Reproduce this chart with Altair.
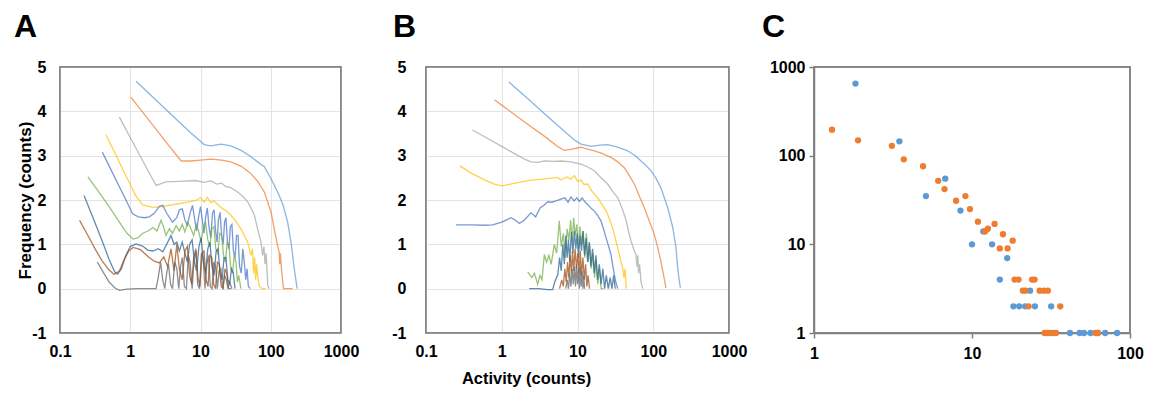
import altair as alt
import pandas as pd

FONT = "Liberation Sans"
SERIES = ["s1", "s2", "s3", "s4", "s5", "s6", "s7", "s8", "s9"]
COLORS = ["#5B9BD5", "#ED7D31", "#A5A5A5", "#FFC000", "#4472C4",
          "#70AD47", "#255E91", "#9E480E", "#636363"]
X_TICKS = [0.1, 1, 10, 100, 1000]
Y_TICKS = [-1, 0, 1, 2, 3, 4, 5]
C_X_TICKS = [1, 10, 100]
C_Y_TICKS = [1, 10, 100, 1000]

# ---------------- Panel A ----------------
A1_x = [1.21, 2.0, 4.0, 7.3, 11.3, 14.0, 19.5, 27.0, 37.8, 50.0, 65.0, 81.0, 101.0, 115.0, 132.0, 150.0, 174.0, 194.0, 205.0, 216.0, 228.0, 237.0]
A1_y = [4.68, 4.35, 3.90, 3.51, 3.25, 3.22, 3.26, 3.22, 3.12, 3.00, 2.86, 2.75, 2.48, 2.30, 2.10, 1.88, 1.50, 1.05, 0.75, 0.45, 0.20, 0.00]
A2_x = [1.02, 2.0, 3.5, 5.3, 7.3, 10.0, 14.1, 20.0, 27.0, 38.0, 52.0, 65.0, 81.0, 101.0, 112.0, 122.0, 128.0, 132.0, 134.0, 137.0, 142.0, 148.0, 152.0, 180.0, 205.0]
A2_y = [4.32, 3.73, 3.24, 2.88, 2.88, 2.90, 2.92, 2.90, 2.86, 2.76, 2.60, 2.42, 2.18, 1.73, 1.35, 1.05, 0.90, 0.83, 0.55, 0.80, 0.45, 0.15, 0.00, 0.00, 0.00]
A3_x = [0.70, 1.0, 1.5, 2.0, 2.33, 3.23, 5.0, 8.6, 11.0, 14.1, 17.0, 20.0, 23.0, 27.0, 33.8, 40.0, 47.0, 53.0, 58.4, 65.0, 72.6, 76.6, 80.0, 83.0, 86.0, 90.6, 95.0]
A3_y = [3.87, 3.41, 2.89, 2.52, 2.33, 2.41, 2.42, 2.44, 2.40, 2.43, 2.36, 2.38, 2.30, 2.28, 2.18, 2.08, 1.96, 1.80, 1.66, 1.35, 1.05, 0.75, 0.95, 0.55, 0.80, 0.08, 0.00]
A4_x = [0.45, 0.6, 0.8, 1.0, 1.2, 1.5, 2.0, 2.6, 3.5, 5.0, 6.5, 8.6, 10.0, 11.3, 12.5, 14.0, 15.5, 17.6, 20.0, 23.0, 27.0, 32.0, 37.6, 42.0, 47.0, 52.0, 55.0, 57.0, 59.0, 61.0, 63.0, 65.0, 68.6, 75.0, 85.0]
A4_y = [3.47, 3.07, 2.66, 2.35, 2.09, 1.89, 1.84, 1.84, 1.88, 1.92, 1.95, 1.99, 2.05, 1.95, 2.06, 1.94, 1.98, 1.90, 1.82, 1.76, 1.66, 1.52, 1.35, 1.20, 1.05, 0.75, 0.90, 0.35, 0.70, 0.20, 0.55, 0.30, 0.05, 0.00, 0.00]
A5_x = [0.40, 0.5, 0.7, 0.9, 1.08, 1.3, 1.6, 1.87, 2.2, 2.6, 2.9, 3.3, 4.0, 4.6, 5.0, 5.5, 6.0, 6.5, 7.1, 7.7, 8.2, 8.8, 9.4, 10.0, 10.6, 11.2, 11.8, 12.5, 13.2, 14.0, 14.8, 15.6, 16.4, 17.2, 18.0, 19.0, 20.0, 21.0, 22.0, 23.0, 24.2, 25.4, 26.6, 28.0, 29.4, 31.0, 32.6, 34.2, 36.0, 38.0, 40.0, 42.0, 44.0, 46.0, 48.0, 51.0]
A5_y = [3.08, 2.77, 2.30, 1.95, 1.69, 1.62, 1.60, 1.62, 1.70, 1.86, 1.88, 1.70, 1.50, 1.60, 1.78, 1.80, 1.55, 1.43, 1.70, 1.88, 1.60, 1.30, 1.62, 1.85, 1.55, 1.25, 1.60, 1.82, 1.40, 1.15, 1.70, 1.78, 1.30, 1.05, 1.55, 1.72, 1.20, 1.00, 1.50, 1.60, 1.05, 0.90, 1.40, 1.45, 0.85, 0.70, 1.20, 1.20, 0.50, 0.35, 0.90, 0.60, 0.20, 0.45, 0.05, 0.00]
A6_x = [0.25, 0.35, 0.5, 0.7, 0.9, 1.1, 1.3, 1.5, 1.8, 2.1, 2.4, 2.74, 3.0, 3.23, 3.6, 4.0, 4.5, 5.0, 5.5, 6.0, 6.6, 7.3, 8.0, 8.7, 9.4, 10.2, 11.0, 11.8, 12.7, 13.6, 14.5, 15.5, 16.5, 17.6, 18.8, 20.0, 21.3, 22.6, 24.0, 25.5, 27.0, 28.6, 30.2, 32.0, 33.5, 35.0, 37.6]
A6_y = [2.52, 2.20, 1.85, 1.50, 1.25, 1.12, 1.15, 1.25, 1.30, 1.38, 1.30, 1.54, 1.38, 1.20, 1.35, 1.25, 1.42, 1.30, 1.45, 1.28, 1.50, 1.35, 1.20, 1.45, 1.30, 1.05, 1.40, 1.50, 1.10, 0.95, 1.35, 1.40, 0.90, 0.80, 1.25, 1.20, 0.75, 0.60, 1.05, 0.95, 0.45, 0.35, 0.75, 0.60, 0.15, 0.30, 0.00]
A7_x = [0.22, 0.3, 0.4, 0.5, 0.6, 0.66, 0.75, 0.85, 1.0, 1.21, 1.5, 1.77, 2.1, 2.5, 2.9, 3.3, 3.8, 4.2, 4.6, 5.0, 5.5, 6.0, 6.5, 7.0, 7.6, 8.2, 8.8, 9.5, 10.2, 11.0, 11.8, 12.7, 13.6, 14.6, 15.6, 16.7, 17.8, 19.0, 20.3, 21.6, 23.0, 24.5, 26.0, 27.6, 29.3, 31.0]
A7_y = [2.10, 1.57, 1.07, 0.66, 0.38, 0.33, 0.45, 0.72, 0.95, 1.01, 0.96, 0.87, 0.85, 0.90, 0.83, 1.00, 1.20, 1.00, 1.05, 0.85, 1.05, 0.80, 0.60, 1.00, 1.10, 0.60, 0.40, 0.95, 1.15, 0.60, 0.35, 0.90, 1.05, 0.50, 0.30, 0.85, 0.90, 0.35, 0.20, 0.70, 0.70, 0.20, 0.10, 0.45, 0.35, 0.00]
A8_x = [0.19, 0.25, 0.32, 0.4, 0.5, 0.59, 0.7, 0.8, 0.95, 1.1, 1.4, 1.8, 2.2, 2.6, 3.0, 3.4, 3.8, 4.2, 4.6, 5.0, 5.5, 6.0, 6.5, 7.0, 7.5, 8.0, 8.6, 9.2, 9.8, 10.5, 11.2, 12.0, 12.8, 13.6, 14.5, 15.4, 16.4, 17.4, 18.5, 19.7, 21.0, 22.3, 23.7, 25.0, 27.0]
A8_y = [1.54, 1.20, 0.88, 0.62, 0.42, 0.32, 0.40, 0.62, 0.85, 0.93, 0.88, 0.72, 0.62, 0.58, 0.72, 0.50, 0.90, 0.40, 1.00, 0.45, 0.20, 0.85, 0.95, 0.30, 0.10, 0.70, 0.90, 0.25, 0.05, 0.80, 0.85, 0.20, 0.05, 0.75, 0.70, 0.10, 0.00, 0.60, 0.55, 0.05, 0.00, 0.45, 0.35, 0.00, 0.00]
A9_x = [0.34, 0.42, 0.5, 0.6, 0.7, 0.9, 1.2, 1.6, 2.0, 2.33, 2.5, 2.7, 2.9, 3.1, 3.3, 3.5, 3.75, 4.0, 4.3, 4.6, 4.9, 5.2, 5.5, 5.9, 6.3, 6.7, 7.1, 7.6, 8.1, 8.6, 9.1, 9.7, 10.3, 10.9, 11.6, 12.3, 13.0, 13.8, 14.6, 15.5, 16.4, 17.4, 18.4, 19.5, 20.7, 22.0, 23.3, 24.7, 26.0, 28.0]
A9_y = [0.60, 0.35, 0.15, 0.02, -0.04, -0.01, 0.00, 0.00, 0.00, 0.00, 0.25, 0.60, 0.20, 0.00, 0.35, 0.55, 0.10, 0.00, 0.60, 0.45, 0.00, 0.50, 0.70, 0.05, 0.00, 0.75, 0.60, 0.00, 0.65, 0.85, 0.10, 0.00, 0.80, 0.70, 0.00, 0.55, 0.75, 0.05, 0.00, 0.60, 0.50, 0.00, 0.40, 0.45, 0.00, 0.30, 0.20, 0.00, 0.15, 0.00]

# ---------------- Panel B ----------------
B1_x = [1.24, 2.0, 4.0, 6.05, 9.0, 11.1, 15.1, 20.0, 25.0, 33.0, 46.0, 58.0, 69.0, 80.0, 93.0, 108.0, 126.0, 140.0, 155.0, 168.0, 181.0, 190.0, 200.0, 210.0, 220.0, 228.0]
B1_y = [4.66, 4.35, 3.89, 3.62, 3.36, 3.26, 3.21, 3.24, 3.25, 3.20, 3.11, 3.00, 2.88, 2.78, 2.66, 2.50, 2.28, 2.05, 1.83, 1.60, 1.38, 1.15, 0.92, 0.47, 0.20, 0.02]
B2_x = [0.8, 1.0, 2.0, 4.0, 5.5, 6.7, 8.5, 11.1, 13.5, 16.7, 21.0, 27.7, 34.0, 41.5, 48.0, 56.2, 65.0, 76.0, 90.0, 103.0, 115.0, 126.0, 137.0, 147.0]
B2_y = [4.26, 4.14, 3.76, 3.39, 3.20, 3.12, 3.15, 3.19, 3.15, 3.11, 3.05, 2.96, 2.86, 2.73, 2.56, 2.36, 2.10, 1.83, 1.50, 1.23, 0.92, 0.62, 0.30, 0.02]
B3_x = [0.41, 0.6, 1.0, 1.5, 2.0, 2.43, 3.0, 3.65, 5.0, 6.05, 8.2, 11.1, 13.5, 16.7, 20.0, 25.0, 29.0, 34.0, 39.0, 44.1, 47.0, 50.8, 55.0, 59.0, 61.0, 62.5, 64.0, 66.0, 69.0, 72.6]
B3_y = [3.58, 3.42, 3.21, 3.04, 2.92, 2.86, 2.85, 2.88, 2.87, 2.88, 2.86, 2.81, 2.75, 2.66, 2.52, 2.36, 2.20, 2.05, 1.80, 1.53, 1.30, 1.08, 0.90, 0.77, 0.50, 0.75, 0.35, 0.55, 0.15, 0.00]
B4_x = [0.28, 0.4, 0.6, 0.8, 1.01, 1.5, 2.43, 3.5, 5.5, 6.05, 7.2, 8.2, 9.1, 10.0, 11.2, 12.2, 13.6, 15.5, 18.5, 21.5, 25.0, 28.0, 30.6, 33.0, 35.7, 37.5, 39.5, 41.0, 42.5, 44.0]
B4_y = [2.77, 2.60, 2.45, 2.36, 2.32, 2.38, 2.45, 2.47, 2.51, 2.45, 2.52, 2.47, 2.55, 2.42, 2.45, 2.35, 2.36, 2.20, 2.05, 1.88, 1.68, 1.45, 1.23, 1.00, 0.77, 0.60, 0.47, 0.25, 0.45, 0.00]
B5_x = [0.25, 0.4, 0.6, 0.76, 1.0, 1.32, 1.5, 1.71, 2.0, 2.43, 2.8, 3.2, 3.6, 4.05, 4.6, 5.2, 6.05, 6.8, 7.5, 8.2, 9.0, 9.8, 10.6, 11.5, 12.5, 13.6, 15.0, 16.7, 18.5, 20.4, 22.0, 23.8, 25.8, 27.7, 29.0, 30.6, 32.0, 34.0]
B5_y = [1.44, 1.44, 1.43, 1.44, 1.50, 1.60, 1.55, 1.47, 1.55, 1.71, 1.62, 1.82, 1.88, 1.96, 1.95, 1.98, 2.02, 2.05, 1.95, 2.07, 1.98, 2.05, 1.97, 2.05, 1.96, 1.90, 1.82, 1.75, 1.65, 1.53, 1.35, 1.15, 0.95, 0.77, 0.55, 0.32, 0.15, 0.00]
B6_x = [2.2, 2.5, 2.7, 2.98, 3.2, 3.4, 3.65, 3.9, 4.2, 4.5, 4.94, 5.3, 5.75, 6.1, 6.5, 6.9, 7.3, 7.7, 8.1, 8.5, 8.9, 9.3, 9.8, 10.3, 10.8, 11.3, 11.9, 12.5, 13.1, 13.8, 14.5, 15.2, 16.0, 16.8, 17.6, 18.5, 19.5, 20.5, 22.0]
B6_y = [0.38, 0.25, 0.35, 0.10, 0.30, 0.20, 0.77, 0.60, 0.75, 0.55, 1.00, 0.80, 1.53, 0.95, 1.25, 0.70, 1.35, 1.10, 1.55, 1.05, 1.60, 1.20, 1.45, 0.90, 1.40, 1.00, 1.30, 0.70, 1.25, 0.60, 1.00, 0.45, 0.80, 0.25, 0.65, 0.10, 0.45, 0.00, 0.00]
B7_x = [2.3, 3.13, 4.0, 4.7, 5.0, 5.5, 5.8, 6.1, 6.4, 6.7, 7.0, 7.3, 7.6, 7.9, 8.3, 8.7, 9.1, 9.5, 9.9, 10.3, 10.8, 11.3, 11.8, 12.4, 13.0, 13.6, 14.3, 15.0, 15.8, 16.6, 17.5, 18.4, 19.4, 20.5, 21.6, 22.8, 24.0, 25.5, 27.0, 28.5, 30.0, 31.5]
B7_y = [0.00, 0.00, -0.02, -0.02, 0.15, 0.32, 0.70, 0.40, 1.00, 0.55, 1.20, 0.70, 1.10, 0.60, 1.28, 0.80, 1.30, 0.90, 1.25, 0.70, 1.20, 0.85, 1.30, 0.75, 1.15, 0.60, 1.05, 0.50, 0.90, 0.35, 0.75, 0.20, 0.55, 0.10, 0.45, 0.00, 0.30, 0.00, 0.25, 0.00, 0.30, 0.00]
B8_x = [5.8, 6.2, 6.5, 6.8, 7.1, 7.4, 7.7, 8.0, 8.3, 8.6, 8.9, 9.3, 9.7, 10.1, 10.5, 10.9, 11.3, 11.8, 12.3, 12.8, 13.3, 13.8, 14.4]
B8_y = [0.00, 0.20, 0.05, 0.45, 0.15, 0.60, 0.25, 0.75, 0.35, 0.85, 0.40, 0.90, 0.45, 0.80, 0.35, 0.85, 0.30, 0.70, 0.20, 0.55, 0.05, 0.30, 0.00]
B9_x = [7.0, 7.3, 7.6, 7.9, 8.2, 8.5, 8.8, 9.1, 9.4, 9.7, 10.0, 10.3, 10.6, 10.9, 11.2, 11.5, 11.8, 12.1, 12.4]
B9_y = [0.00, 0.20, 0.00, 0.35, 0.05, 0.45, 0.10, 0.50, 0.05, 0.55, 0.10, 0.45, 0.00, 0.50, 0.05, 0.40, 0.00, 0.30, 0.00]

# ---------------- Panel C ----------------
C_blue_x = [1.83, 3.47, 5.11, 6.77, 8.45, 10.0, 11.8, 13.4, 15.0, 16.7, 18.3, 19.9, 21.7, 23.3, 25.0, 31.7, 41.7, 48.0, 51.1, 56.3, 62.6, 69.6, 82.8]
C_blue_y = [650, 145, 35, 55, 24, 10, 14, 10, 4, 7, 2, 2, 2, 3, 2, 2, 1, 1, 1, 1, 1, 1, 1]
C_orange_x = [1.30, 1.90, 3.11, 3.70, 4.90, 6.11, 6.70, 7.93, 9.08, 9.71, 10.9, 12.1, 12.6, 13.9, 15.0, 15.7, 16.8, 18.1, 18.6, 19.7, 24.0, 24.9, 21.0, 21.8, 26.8, 28.5, 30.2, 22.8, 36.2, 28.8, 30.0, 31.2, 32.5, 34.0, 60.5, 62.6]
C_orange_y = [196, 149, 129, 91, 76, 52, 42, 31, 35, 25, 18, 14, 15, 17, 9, 13, 9, 11, 4, 4, 4, 4, 3, 3, 3, 3, 3, 2, 2, 1, 1, 1, 1, 1, 1, 1]


def line_frame(pairs):
    rows = []
    for name, xs, ys in pairs:
        for i, (xv, yv) in enumerate(zip(xs, ys)):
            rows.append({"series": name, "x": xv, "y": yv, "i": i})
    return pd.DataFrame(rows)


dfA = line_frame([
    ("s1", A1_x, A1_y), ("s2", A2_x, A2_y), ("s3", A3_x, A3_y),
    ("s4", A4_x, A4_y), ("s5", A5_x, A5_y), ("s6", A6_x, A6_y),
    ("s7", A7_x, A7_y), ("s8", A8_x, A8_y), ("s9", A9_x, A9_y)])
dfB = line_frame([
    ("s1", B1_x, B1_y), ("s2", B2_x, B2_y), ("s3", B3_x, B3_y),
    ("s4", B4_x, B4_y), ("s5", B5_x, B5_y), ("s6", B6_x, B6_y),
    ("s7", B7_x, B7_y), ("s8", B8_x, B8_y), ("s9", B9_x, B9_y)])
dfC = pd.concat([
    pd.DataFrame({"x": C_blue_x, "y": C_blue_y, "series": "blue"}),
    pd.DataFrame({"x": C_orange_x, "y": C_orange_y, "series": "orange"}),
], ignore_index=True)

LABEL = dict(labelFont=FONT, labelFontSize=16, labelFontWeight="bold", labelColor="#000000")
GRID = "#e4e4e4"
FRAME = "#808080"
H = 266


def panel_title(text, dx):
    return alt.TitleParams(text, anchor="start", frame="group", dx=dx, offset=15,
                           fontSize=32, font=FONT, fontWeight="bold", color="#000000")


def frame_layer(width):
    # plot-area border (Excel style), drawn as a hollow rectangle over the panel
    return alt.Chart(pd.DataFrame({"f": [0]})).mark_rect(
        fill=None, stroke=FRAME, strokeWidth=1.5
    ).encode(x=alt.value(0), x2=alt.value(width), y=alt.value(0), y2=alt.value(H))


def line_panel(df, width, label, dx, y_title, x_title, ylab_pad):
    xargs = dict(values=X_TICKS, format="~g", grid=True, gridColor=GRID,
                 domain=False, ticks=False, labelPadding=10, labelFlush=False,
                 labelOverlap=False, **LABEL)
    if x_title:
        xargs.update(title=x_title, titleX=100, titleY=50, titleFont=FONT,
                     titleFontSize=16.5, titleFontWeight="bold", titleColor="#000000",
                     titleBaseline="alphabetic", titleAlign="center")
    else:
        xargs["title"] = None
    yargs = dict(values=Y_TICKS, grid=True, gridColor=GRID, domain=False,
                 ticks=False, labelPadding=ylab_pad, labelFlush=False, labelOverlap=False,
                 labelExpr="datum.value < 0 ? '-' + abs(datum.value) : datum.label", **LABEL)
    if y_title:
        yargs.update(title=y_title, titleX=-30, titleY=133, titleFont=FONT,
                     titleFontSize=17, titleFontWeight="bold", titleColor="#000000",
                     titleBaseline="alphabetic", titleAlign="center")
    else:
        yargs["title"] = None
    lines = alt.Chart(df).mark_line(
        strokeWidth=1.3, clip=True, opacity=0.72
    ).encode(
        x=alt.X("x:Q", scale=alt.Scale(type="log", domain=[0.1, 1000]), axis=alt.Axis(**xargs)),
        y=alt.Y("y:Q", scale=alt.Scale(domain=[-1, 5], nice=False, zero=False), axis=alt.Axis(**yargs)),
        color=alt.Color("series:N", scale=alt.Scale(domain=SERIES, range=COLORS), legend=None),
        detail="series:N",
        order="i:Q",
    )
    return alt.layer(lines, frame_layer(width), title=panel_title(label, dx)).properties(
        width=width, height=H)


chartA = line_panel(dfA, 281, "A", -46, "Frequency (counts)", None, 14)
chartB = line_panel(dfB, 303, "B", -33, None, "Activity (counts)", 20)

pointsC = alt.Chart(dfC).mark_circle(size=40, opacity=1).encode(
    x=alt.X("x:Q", scale=alt.Scale(type="log", domain=[1, 100]),
            axis=alt.Axis(values=C_X_TICKS, format="~g", title=None, grid=False,
                          domain=True, domainColor=FRAME, domainWidth=1.5,
                          ticks=True, tickSize=5, tickColor=FRAME, tickWidth=1.5,
                          labelPadding=7, labelFlush=False, **LABEL)),
    y=alt.Y("y:Q", scale=alt.Scale(type="log", domain=[1, 1000]),
            axis=alt.Axis(values=C_Y_TICKS, format="~g", title=None, grid=False,
                          domain=True, domainColor=FRAME, domainWidth=1.5,
                          ticks=True, tickSize=5, tickColor=FRAME, tickWidth=1.5,
                          labelPadding=4, labelFlush=False, **LABEL)),
    color=alt.Color("series:N", scale=alt.Scale(domain=["blue", "orange"],
                                                range=["#5B9BD5", "#ED7D31"]), legend=None),
)
chartC = alt.layer(frame_layer(316), pointsC, title=panel_title("C", -52)).properties(
    width=316, height=H)

chart = alt.hconcat(chartA, chartB, chartC, spacing=85, bounds="flush").configure_view(
    stroke=FRAME, strokeWidth=1.5
).properties(
    background="white",
    padding={"left": 5, "top": 2, "right": 2, "bottom": 0}
)

chart.save("out.html", embed_options={"renderer": "svg", "actions": False})
